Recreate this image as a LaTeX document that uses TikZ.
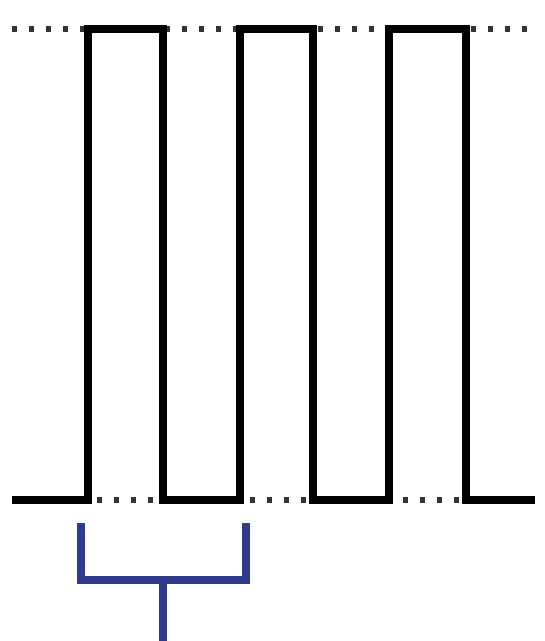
\documentclass[tikz,border=0pt]{standalone}
\usepackage{xcolor}
\usepackage{tikz}
\usetikzlibrary{positioning,calc}
\definecolor{bracecol}{HTML}{2E3A8C}

\begin{document}
\begin{tikzpicture}[
  x=0.03cm, y=-0.03cm,
  level/.style={draw=black!80, line width=4.5pt, dash pattern=on 4.5pt off 10pt},
  wave/.style={draw=black, line width=6pt, line join=miter},
  brace/.style={draw=bracecol, line width=7pt, line join=miter}
]
\useasboundingbox (0,0) rectangle (545,641);

% levels
\coordinate (hiL) at (12,29);
\coordinate (hiR) at (535,29);
\coordinate (loL) at (12,500);
\coordinate (loR) at (535,500);
\draw[level] (hiL) -- (hiR);
\draw[level] (loL) -- (loR);

% pulses
\draw[wave] (loL) -- (88,500) -- (88,29) -- (163,29) -- (163,500)
  -- (240,500) -- (240,29) -- (313,29) -- (313,500)
  -- (389,500) -- (389,29) -- (466,29) -- (466,500) -- (loR);

% period brace
\coordinate (bl) at (81,523);
\coordinate (br) at (246,523);
\coordinate (stem) at (163,641);
\draw[brace] (bl) -- (bl |- 0,580) -- (br |- 0,580) -- (br);
\draw[brace] (stem |- 0,580) -- (stem);
\end{tikzpicture}
\end{document}
